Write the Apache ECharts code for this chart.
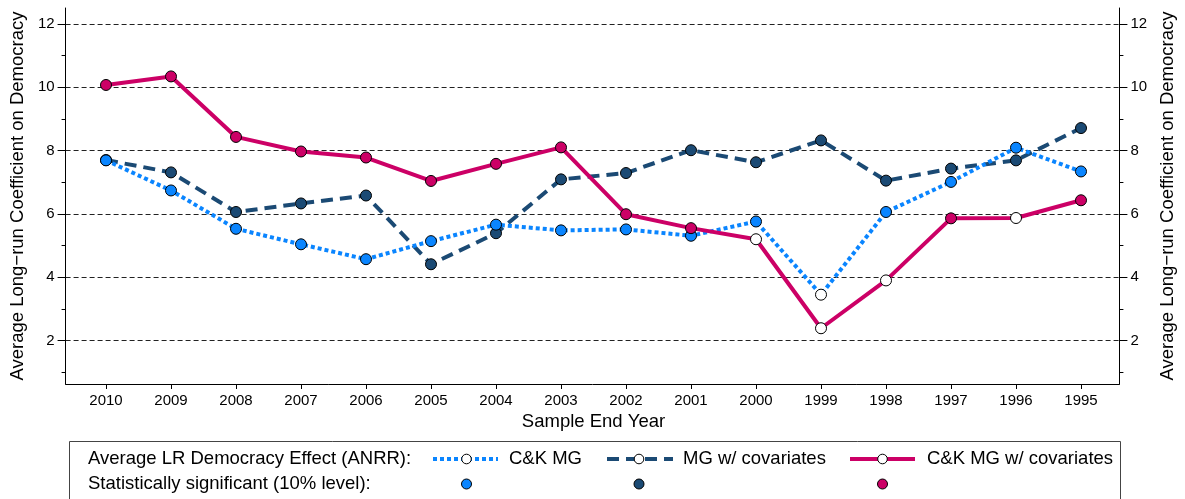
<!DOCTYPE html>
<html>
<head>
<meta charset="utf-8">
<title>Average long-run coefficient on democracy</title>
<script src="https://cdn.jsdelivr.net/npm/echarts@6/dist/echarts.min.js"></script>
<style>
  html, body { margin: 0; padding: 0; background: #fff; }
  #chart { width: 1185px; height: 499px; }
</style>
</head>
<body>
<div id="chart"></div>
<script>
// sample end years (x axis)
const years = ['2010', '2009', '2008', '2007', '2006', '2005', '2004', '2003',
  '2002', '2001', '2000', '1999', '1998', '1997', '1996', '1995'];

// C&K MG
const ckMg = [7.69, 6.74, 5.53, 5.04, 4.57, 5.14, 5.66, 5.48, 5.51, 5.31, 5.76, 3.45, 6.06, 7.01, 8.09, 7.34];
// MG w/ covariates
const mgCov = [7.70, 7.31, 6.06, 6.33, 6.58, 4.41, 5.39, 7.09, 7.29, 8.01, 7.63, 8.32, 7.05, 7.43, 7.69, 8.71];
// C&K MG w/ covariates
const ckMgCov = [10.07, 10.34, 8.43, 7.97, 7.78, 7.04, 7.58, 8.10, 5.99, 5.55, 5.20, 2.39, 3.90, 5.86, 5.87, 6.43];

// significant at 10% level (1 = filled marker, 0 = hollow)
const sigCkMg = [1, 1, 1, 1, 1, 1, 1, 1, 1, 1, 1, 0, 1, 1, 1, 1];
const sigMgCov = [1, 1, 1, 1, 1, 1, 1, 1, 1, 1, 1, 1, 1, 1, 1, 1];
const sigCkMgCov = [1, 1, 1, 1, 1, 1, 1, 1, 1, 1, 0, 0, 0, 1, 0, 1];

// y axis ticks
const yTicks = [2, 4, 6, 8, 10, 12];
const yMinorTicks = [1, 3, 5, 7, 9, 11];

const FONT = '"Liberation Sans", Arial, Helvetica, sans-serif';
const C_LIGHT = '#0a85ff';
const C_DARK = '#1b4a74';
const C_RED = '#cc0066';
const Y_MIN = 0.63, Y_MAX = 12.5;

function markers(values, sig, color) {
  return values.map((v, i) => ({
    value: v,
    itemStyle: { color: sig[i] ? color : '#fff' }
  }));
}

function yAxisBase(pos) {
  return {
    gridIndex: 0,
    type: 'value',
    position: pos,
    min: Y_MIN,
    max: Y_MAX,
    axisLine: { show: true, lineStyle: { color: '#000', width: 1 } },
    axisTick: { show: true, length: 8, customValues: yTicks, lineStyle: { color: '#000' } },
    axisLabel: { show: true, customValues: yTicks, margin: 11, fontSize: 15, color: '#000', fontFamily: FONT },
    splitLine: { show: false },
    name: 'Average Long\u2212run Coefficient on Democracy',
    nameLocation: 'middle',
    nameGap: 35,
    nameTextStyle: { fontSize: 18.5, color: '#000', fontFamily: FONT }
  };
}

function minorAxis(pos) {
  return {
    gridIndex: 0,
    type: 'value',
    position: pos,
    min: Y_MIN,
    max: Y_MAX,
    axisLine: { show: false },
    axisTick: { show: true, length: 4, customValues: yMinorTicks, lineStyle: { color: '#000' } },
    axisLabel: { show: false },
    splitLine: { show: false }
  };
}

const leftAxis = yAxisBase('left');
leftAxis.splitLine = { show: true, lineStyle: { color: '#222', width: 1, type: [5, 3] } };

const chart = echarts.init(document.getElementById('chart'));

// legend drawn by hand (two-row layout as in the original)
const ROW1 = 459, ROW2 = 484;
const legendGraphic = [
  { type: 'rect', shape: { x: 69.5, y: 441.5, width: 1051, height: 80 },
    style: { fill: '#fff', stroke: '#444', lineWidth: 1 } },
  { type: 'text', x: 88, y: ROW1, style: { text: 'Average LR Democracy Effect (ANRR):', font: '18.5px ' + FONT, fill: '#000', verticalAlign: 'middle' } },
  { type: 'text', x: 88, y: ROW2, style: { text: 'Statistically significant (10% level):', font: '18.5px ' + FONT, fill: '#000', verticalAlign: 'middle' } },

  { type: 'line', shape: { x1: 433, y1: ROW1, x2: 498, y2: ROW1 }, style: { stroke: C_LIGHT, lineWidth: 4, lineDash: [4, 3] } },
  { type: 'circle', shape: { cx: 466.5, cy: ROW1, r: 4.8 }, style: { fill: '#fff', stroke: '#000', lineWidth: 1 } },
  { type: 'text', x: 509, y: ROW1, style: { text: 'C&K MG', font: '18.5px ' + FONT, fill: '#000', verticalAlign: 'middle' } },
  { type: 'circle', shape: { cx: 466.5, cy: ROW2, r: 5 }, style: { fill: C_LIGHT, stroke: '#000', lineWidth: 1 } },

  { type: 'line', shape: { x1: 607, y1: ROW1, x2: 673, y2: ROW1 }, style: { stroke: C_DARK, lineWidth: 4, lineDash: [12, 7] } },
  { type: 'circle', shape: { cx: 639, cy: ROW1, r: 4.8 }, style: { fill: '#fff', stroke: '#000', lineWidth: 1 } },
  { type: 'text', x: 683, y: ROW1, style: { text: 'MG w/ covariates', font: '18.5px ' + FONT, fill: '#000', verticalAlign: 'middle' } },
  { type: 'circle', shape: { cx: 639, cy: ROW2, r: 5 }, style: { fill: C_DARK, stroke: '#000', lineWidth: 1 } },

  { type: 'line', shape: { x1: 850, y1: ROW1, x2: 915, y2: ROW1 }, style: { stroke: C_RED, lineWidth: 4 } },
  { type: 'circle', shape: { cx: 882.5, cy: ROW1, r: 4.8 }, style: { fill: '#fff', stroke: '#000', lineWidth: 1 } },
  { type: 'text', x: 927, y: ROW1, style: { text: 'C&K MG w/ covariates', font: '18.5px ' + FONT, fill: '#000', verticalAlign: 'middle' } },
  { type: 'circle', shape: { cx: 882.5, cy: ROW2, r: 5 }, style: { fill: C_RED, stroke: '#000', lineWidth: 1 } }
];

chart.setOption({
  animation: false,
  backgroundColor: '#fff',
  textStyle: { fontFamily: FONT },
  grid: [
    // frame grid: axes and dashed grid lines span the whole box
    { left: 62, right: 59, top: 8, bottom: 115 },
    // data grid: first and last year sit inside the frame
    { left: 106, right: 104, top: 8, bottom: 115 }
  ],
  xAxis: [
    {
      gridIndex: 0, type: 'value', min: 0, max: 1,
      axisLine: { show: true, onZero: false, lineStyle: { color: '#000', width: 1 } },
      axisTick: { show: false }, axisLabel: { show: false }, splitLine: { show: false }
    },
    {
      gridIndex: 1, type: 'category', data: years, boundaryGap: false,
      axisLine: { show: false },
      axisTick: { show: true, length: 5, alignWithLabel: true, lineStyle: { color: '#000' } },
      axisLabel: { margin: 9, fontSize: 15, color: '#000', fontFamily: FONT },
      splitLine: { show: false },
      name: 'Sample End Year', nameLocation: 'middle', nameGap: 26,
      nameTextStyle: { fontSize: 18.5, color: '#000', fontFamily: FONT }
    }
  ],
  yAxis: [
    leftAxis,
    yAxisBase('right'),
    minorAxis('left'),
    minorAxis('right'),
    { gridIndex: 1, type: 'value', min: Y_MIN, max: Y_MAX, show: false, splitLine: { show: false } }
  ],
  series: [
    {
      name: 'MG w/ covariates', type: 'line', xAxisIndex: 1, yAxisIndex: 4,
      data: markers(mgCov, sigMgCov, C_DARK),
      symbol: 'circle', symbolSize: 11,
      lineStyle: { color: C_DARK, width: 4, type: [12, 7] },
      itemStyle: { borderColor: '#000', borderWidth: 1 }
    },
    {
      name: 'C&K MG', type: 'line', xAxisIndex: 1, yAxisIndex: 4,
      data: markers(ckMg, sigCkMg, C_LIGHT),
      symbol: 'circle', symbolSize: 11,
      lineStyle: { color: C_LIGHT, width: 4, type: [4, 3] },
      itemStyle: { borderColor: '#000', borderWidth: 1 }
    },
    {
      name: 'C&K MG w/ covariates', type: 'line', xAxisIndex: 1, yAxisIndex: 4,
      data: markers(ckMgCov, sigCkMgCov, C_RED),
      symbol: 'circle', symbolSize: 11,
      lineStyle: { color: C_RED, width: 4 },
      itemStyle: { borderColor: '#000', borderWidth: 1 }
    }
  ],
  graphic: legendGraphic
});
</script>
</body>
</html>
